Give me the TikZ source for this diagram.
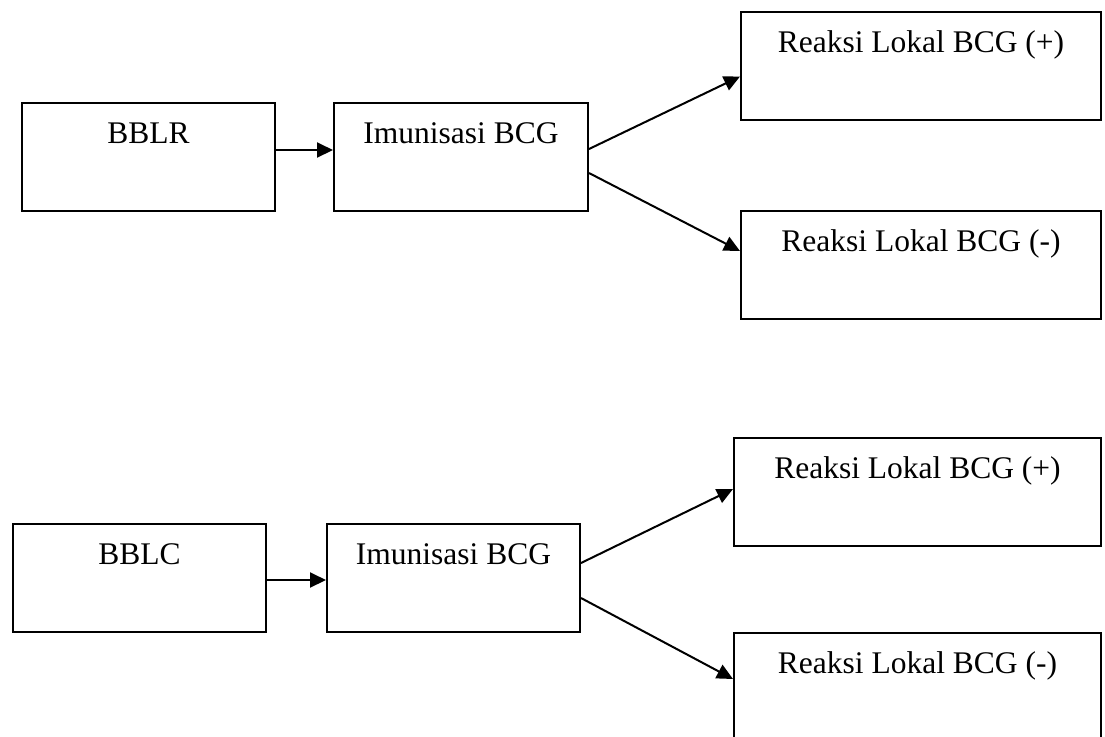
\documentclass[tikz,border=0pt]{standalone}
\usepackage{fontspec}
\setmainfont{Liberation Serif}
\usetikzlibrary{calc,arrows.meta}
\begin{document}
\begin{tikzpicture}[x=0.5pt,y=-0.5pt,
  box/.style={draw,line width=1pt,inner sep=0pt,anchor=north west,
    text height=20pt,text depth=34pt,font=\fontsize{15.75pt}{19pt}\selectfont},
  arr/.style={line width=1pt,-{Triangle[length=8pt,width=7.5pt]}}]
\useasboundingbox (0,0) rectangle (1105,736);
% top group
\node[box,minimum width=126.5pt] (A1) at (21,102) {BBLR};
\node[box,minimum width=127pt] (B1) at (333,102) {Imunisasi BCG};
\node[box,minimum width=180pt] (C1) at (740,11) {Reaksi Lokal BCG (+)};
\node[box,minimum width=180pt] (D1) at (740,210) {Reaksi Lokal BCG (-)};
\draw[arr] ($(A1.east)+(0,-7)$) -- ($(B1.west)+(0,-7)$);
\draw[arr] ($(B1.east)+(0,-8)$) -- ($(C1.west)+(0,10.5)$);
\draw[arr] ($(B1.east)+(0,16)$) -- ($(D1.west)+(0,-14)$);
% bottom group
\node[box,minimum width=126.5pt] (A2) at (12,523) {BBLC};
\node[box,minimum width=126.5pt] (B2) at (326,523) {Imunisasi BCG};
\node[box,minimum width=183.5pt] (C2) at (733,437) {Reaksi Lokal BCG (+)};
\node[box,minimum width=183.5pt] (D2) at (733,632) {Reaksi Lokal BCG (-)};
\draw[arr] ($(A2.east)+(0,2)$) -- ($(B2.west)+(0,2)$);
\draw[arr] ($(B2.east)+(0,-15)$) -- ($(C2.west)+(0,-3)$);
\draw[arr] ($(B2.east)+(0,20)$) -- ($(D2.west)+(0,-8)$);
\end{tikzpicture}
\end{document}
